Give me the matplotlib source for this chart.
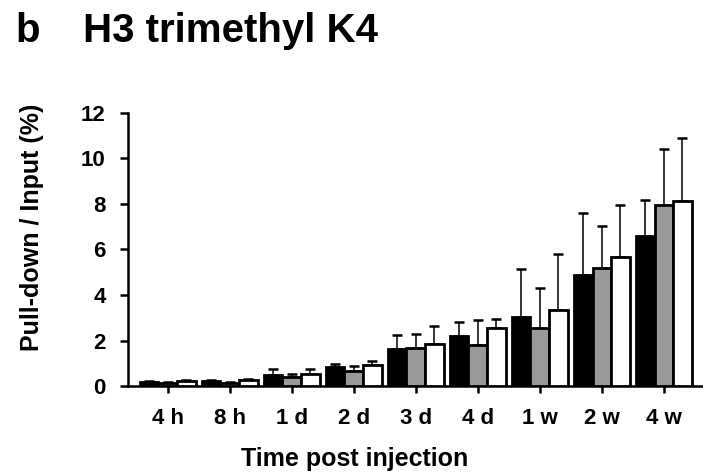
import numpy as np
import matplotlib
matplotlib.use("Agg")
import matplotlib.pyplot as plt

plt.rcParams['font.family'] = ['Liberation Sans', 'DejaVu Sans']
plt.rcParams['font.weight'] = 'bold'

# data (mean, upper error)
time_labels = ["4 h", "8 h", "1 d", "2 d", "3 d", "4 d", "1 w", "2 w", "4 w"]
black_vals = [0.18, 0.24, 0.48, 0.85, 1.62, 2.19, 3.04, 4.88, 6.57]
gray_vals = [0.13, 0.14, 0.38, 0.67, 1.69, 1.80, 2.57, 5.18, 7.95]
white_vals = [0.24, 0.26, 0.52, 0.92, 1.87, 2.53, 3.35, 5.68, 8.14]
black_err = [0.04, 0.04, 0.25, 0.13, 0.64, 0.62, 2.08, 2.70, 1.62]
gray_err = [0.04, 0.04, 0.16, 0.21, 0.61, 1.09, 1.75, 1.85, 2.48]
white_err = [0.04, 0.04, 0.24, 0.17, 0.75, 0.40, 2.44, 2.26, 2.76]

fig = plt.figure(figsize=(7.03, 4.72), dpi=100)
ax = fig.add_axes([0.182, 0.182, 0.817, 0.579])

x = np.arange(len(time_labels))
w = 0.3
series = [(black_vals, black_err, "black", -w),
          (gray_vals, gray_err, "#999999", 0),
          (white_vals, white_err, "white", w)]

for vals, err, color, off in series:
    ax.bar(x + off, vals, width=w, color=color, edgecolor="black",
           linewidth=2.0, zorder=3)
    ax.errorbar(x + off, vals, yerr=[np.zeros(len(vals)), err], fmt="none",
                ecolor="black", elinewidth=1.1, capsize=3.6, capthick=1.8,
                zorder=2)

ax.set_xlim(-0.64, 8.62)
ax.set_ylim(0, 12)
ax.set_yticks(range(0, 13, 2))
ax.set_xticks(x)
ax.set_xticklabels(time_labels)

for side in ["top", "right"]:
    ax.spines[side].set_visible(False)
for side in ["left", "bottom"]:
    ax.spines[side].set_linewidth(1.8)

ax.tick_params(axis="y", direction="out", length=6, width=1.8, labelsize=16, pad=10)
ax.tick_params(axis="x", direction="out", length=5, width=1.8, labelsize=16, pad=11)

fig.text(15 / 703, 1 - 42 / 472, "b", fontsize=29, fontweight="bold", va="baseline")
fig.text(83 / 703, 1 - 42 / 472, "H3 trimethyl K4", fontsize=29,
         fontweight="bold", va="baseline")
fig.text(32 / 703, 1 - 227 / 472, "Pull-down / Input (%)", fontsize=18,
         fontweight="bold", rotation=90, ha="center", va="center")
fig.text(355 / 703, 1 - 466 / 472, "Time post injection", fontsize=18,
         fontweight="bold", ha="center", va="baseline")

fig.savefig("out.png", dpi=100)
